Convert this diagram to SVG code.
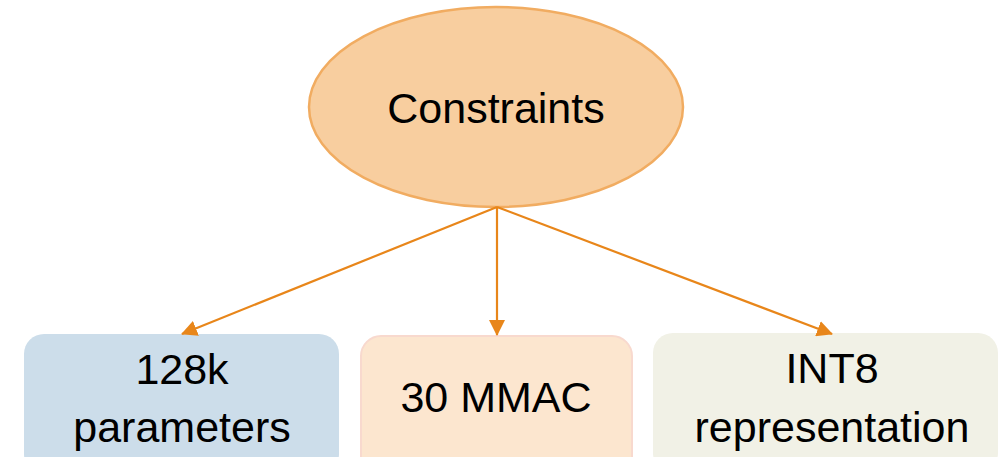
<svg xmlns="http://www.w3.org/2000/svg" width="999" height="457" viewBox="0 0 999 457">
  <style>
    .lbl { font-family: "Liberation Sans", Arial, sans-serif; font-size: 43px; fill: #000; text-anchor: middle; }
    .conn { stroke: #E8861A; stroke-width: 2.2; fill: none; marker-end: url(#arrow); }
  </style>
  <defs>
    <marker id="arrow" markerUnits="userSpaceOnUse" markerWidth="16" markerHeight="16" viewBox="0 0 16 16" refX="15" refY="8" orient="auto">
      <path d="M0,0 L16,8 L0,16 z" fill="#E8861A"/>
    </marker>
  </defs>
  <rect width="999" height="457" fill="#ffffff"/>
  <g id="constraints">
    <ellipse cx="496" cy="107" rx="187" ry="100" fill="#F8CE9F" stroke="#F1AC61" stroke-width="2.5"/>
    <text class="lbl" x="496" y="123">Constraints</text>
  </g>
  <g id="params">
    <rect x="24" y="334" width="315" height="140" rx="20" ry="20" fill="#CCDDEA"/>
    <text class="lbl" x="182" y="384">128k</text>
    <text class="lbl" x="182" y="442">parameters</text>
  </g>
  <g id="mmac">
    <rect x="361" y="336" width="271" height="140" rx="20" ry="20" fill="#FCE6CF" stroke="#F8D9CE" stroke-width="2"/>
    <text class="lbl" x="496" y="412">30 MMAC</text>
  </g>
  <g id="int8">
    <rect x="653" y="333" width="345" height="140" rx="20" ry="20" fill="#F1F1E6"/>
    <text class="lbl" x="832" y="383">INT8</text>
    <text class="lbl" x="832" y="442">representation</text>
  </g>
  <g id="connectors">
    <line class="conn" x1="497" y1="207" x2="182" y2="334"/>
    <line class="conn" x1="497" y1="207" x2="497" y2="335"/>
    <line class="conn" x1="497" y1="207" x2="832" y2="334"/>
  </g>
</svg>
